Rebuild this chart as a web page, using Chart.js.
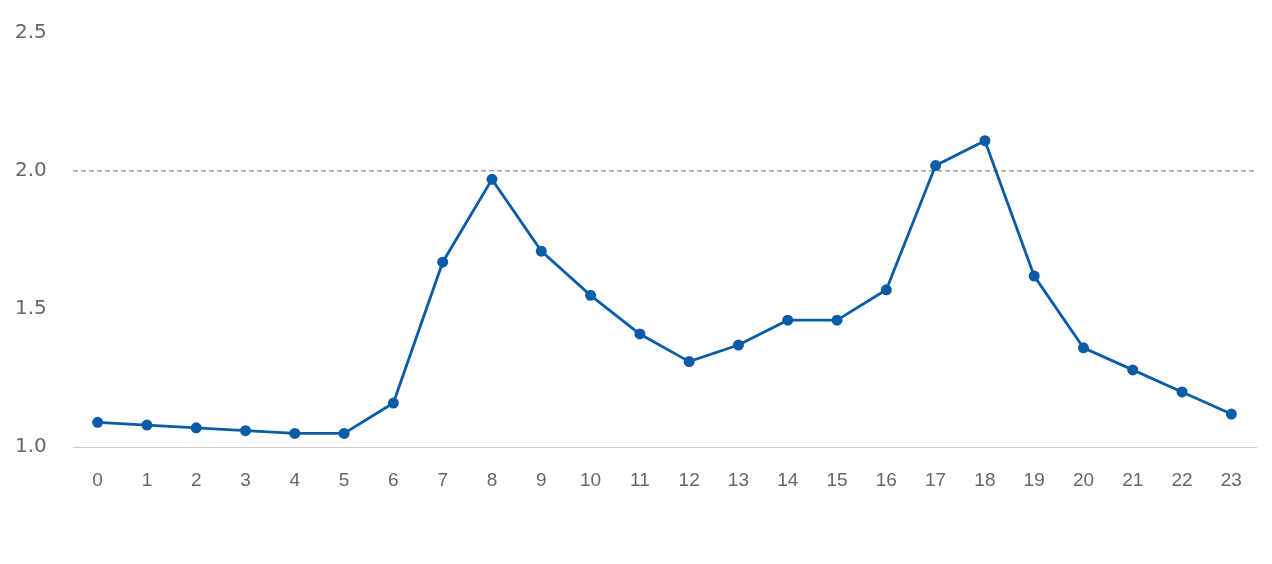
<!DOCTYPE html>
<html>
<head>
<meta charset="utf-8">
<script src="https://cdn.jsdelivr.net/npm/chart.js@4/dist/chart.umd.min.js"></script>
<style>
html,body{margin:0;padding:0;background:#fff;}
#wrap{width:1272px;height:564px;}
</style>
</head>
<body>
<div id="wrap"><canvas id="c" width="1272" height="564"></canvas></div>
<script>
const hours = ['0','1','2','3','4','5','6','7','8','9','10','11','12','13','14','15','16','17','18','19','20','21','22','23'];
const values = [1.09,1.08,1.07,1.06,1.05,1.05,1.16,1.67,1.97,1.71,1.55,1.41,1.31,1.37,1.46,1.46,1.57,2.02,2.11,1.62,1.36,1.28,1.20,1.12];
const yTicks = [1.0,1.5,2.0,2.5];
const refLine = 2.0;

const lineColor = '#0b5ca6';

new Chart(document.getElementById('c'), {
  type: 'line',
  data: {
    labels: hours,
    datasets: [{
      data: values,
      borderColor: lineColor,
      backgroundColor: lineColor,
      borderWidth: 2.8,
      pointRadius: 5.5,
      pointHoverRadius: 5.5,
      pointBackgroundColor: lineColor,
      pointBorderWidth: 0,
      tension: 0,
      fill: false
    }]
  },
  options: {
    responsive: false,
    animation: false,
    devicePixelRatio: 1,
    layout: { padding: { left: 15, right: 16, top: 33, bottom: 50 } },
    plugins: { legend: { display: false }, tooltip: { enabled: false } },
    scales: {
      x: {
        offset: true,
        grid: { display: false, drawTicks: false },
        border: { display: true, color: '#cccccc', width: 1 },
        ticks: { color: '#666666', font: { family: 'Liberation Sans', size: 19 }, padding: 22, maxRotation: 0, autoSkip: false }
      },
      y: {
        min: 1.0,
        max: 2.5,
        afterBuildTicks: (axis) => { axis.ticks = yTicks.map(v => ({ value: v })); },
        afterFit: (axis) => { axis.width = 58; },
        grid: {
          drawTicks: false,
          color: (ctx) => (ctx.tick && ctx.tick.value === refLine) ? '#a0a0a0' : 'rgba(0,0,0,0)',
          lineWidth: 1.5
        },
        border: { display: false, dash: [5, 3] },
        ticks: {
          color: '#666666',
          font: { family: 'DejaVu Sans', size: 20 },
          padding: 0,
          crossAlign: 'far',
          callback: (v) => Number(v).toFixed(1)
        }
      }
    }
  }
});
</script>
</body>
</html>
